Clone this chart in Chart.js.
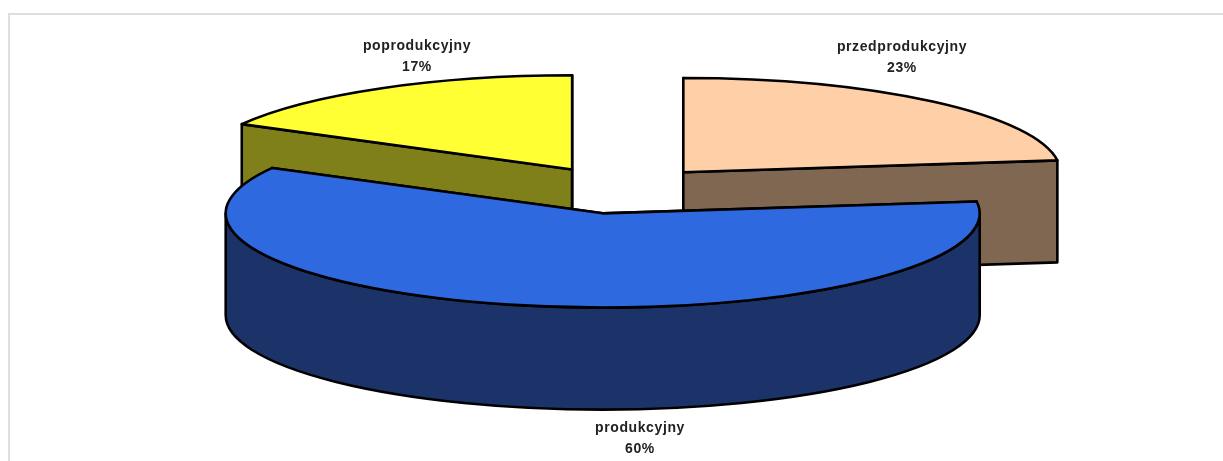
<!DOCTYPE html>
<html>
<head>
<meta charset="utf-8">
<style>
  html, body { margin: 0; padding: 0; background: #fff; overflow: hidden; }
  canvas { display: block; }
</style>
<script src="https://cdn.jsdelivr.net/npm/chart.js@4/dist/chart.umd.js"></script>
</head>
<body>
<canvas id="pie3d" width="1223" height="461"></canvas>
<script>
const categories = ['przedprodukcyjny', 'produkcyjny', 'poprodukcyjny'];
const shares = [23, 60, 17];
const topColors = ['#ffcfa8', '#2f69e0', '#ffff33'];
const sideColors = ['#7f6752', '#1b3369', '#80801a'];

// the tilt of the fake 3d view
const squash = 0.25;
const depth = 102;
const explode = 380; // chart.js moves a slice by offset / 4
const drawOrder = [0, 2, 1];
const labelCentres = [[902, 47], [640, 428], [417, 46]];

function sliceGeometry(arc) {
    const mid = (arc.startAngle + arc.endAngle) / 2;
    const move = arc.options.offset / 4;
    return {
        x: arc.x + Math.cos(mid) * move,
        y: arc.y + Math.sin(mid) * move * squash,
        r: arc.outerRadius,
        start: arc.startAngle,
        end: arc.endAngle
    };
}

function rimPoint(g, angle) {
    return [g.x + Math.cos(angle) * g.r, g.y + Math.sin(angle) * g.r * squash];
}

function paint(ctx, fill) {
    ctx.fillStyle = fill;
    ctx.fill();
    ctx.stroke();
}

function drawCutFace(ctx, g, angle, fill) {
    const p = rimPoint(g, angle);
    ctx.beginPath();
    ctx.moveTo(g.x, g.y);
    ctx.lineTo(p[0], p[1]);
    ctx.lineTo(p[0], p[1] + depth);
    ctx.lineTo(g.x, g.y + depth);
    ctx.closePath();
    paint(ctx, fill);
}

function drawOuterWall(ctx, g, fill) {
    // only the front half of the rim can be seen
    const from = Math.max(g.start, 0);
    const to = Math.min(g.end, Math.PI);
    if (to <= from) return;
    ctx.beginPath();
    ctx.ellipse(g.x, g.y, g.r, g.r * squash, 0, from, to);
    ctx.ellipse(g.x, g.y + depth, g.r, g.r * squash, 0, to, from, true);
    ctx.closePath();
    paint(ctx, fill);
}

function drawTopFace(ctx, g, fill) {
    ctx.beginPath();
    ctx.moveTo(g.x, g.y);
    ctx.ellipse(g.x, g.y, g.r, g.r * squash, 0, g.start, g.end);
    ctx.closePath();
    paint(ctx, fill);
}

const pie3d = {
    id: 'pie3d',
    beforeDraw(chart) {
        const ctx = chart.ctx;
        ctx.save();
        ctx.fillStyle = '#fff';
        ctx.fillRect(0, 0, chart.width, chart.height);
        ctx.strokeStyle = '#dedede';
        ctx.lineWidth = 2;
        ctx.beginPath();
        ctx.moveTo(9, chart.height);
        ctx.lineTo(9, 14);
        ctx.lineTo(chart.width, 14);
        ctx.stroke();
        ctx.restore();
    },
    beforeDatasetDraw(chart, args) {
        const ctx = chart.ctx;
        const arcs = args.meta.data;
        ctx.save();
        ctx.strokeStyle = '#000';
        ctx.lineWidth = 2.6;
        ctx.lineJoin = 'round';
        drawOrder.forEach(i => {
            // angles and radius come from the library's arc elements
            const g = sliceGeometry(arcs[i]);
            drawCutFace(ctx, g, g.start, sideColors[i]);
            drawCutFace(ctx, g, g.end, sideColors[i]);
            drawOuterWall(ctx, g, sideColors[i]);
            drawTopFace(ctx, g, topColors[i]);
        });
        ctx.restore();
        return false;
    },
    afterDatasetsDraw(chart) {
        const ctx = chart.ctx;
        ctx.save();
        ctx.fillStyle = '#222';
        ctx.font = 'bold 14px "Liberation Sans", Arial, sans-serif';
        ctx.letterSpacing = '0.6px';
        ctx.textAlign = 'center';
        ctx.textBaseline = 'middle';
        categories.forEach((name, i) => {
            const pos = labelCentres[i];
            ctx.fillText(name, pos[0], pos[1]);
            ctx.fillText(shares[i] + '%', pos[0], pos[1] + 21);
        });
        ctx.restore();
    }
};

new Chart(document.getElementById('pie3d'), {
    type: 'pie',
    data: {
        labels: categories,
        datasets: [{
            data: shares,
            backgroundColor: topColors,
            borderWidth: 0,
            offset: explode,
            cutout: '0%', // a plain 0 turns into NaN with an offset this big
            radius: 377
        }]
    },
    options: {
        responsive: false,
        animation: false,
        events: [],
        layout: { padding: { left: 18, bottom: 81 } },
        plugins: {
            legend: { display: false },
            tooltip: { enabled: false }
        }
    },
    plugins: [pie3d]
});
</script>
</body>
</html>
